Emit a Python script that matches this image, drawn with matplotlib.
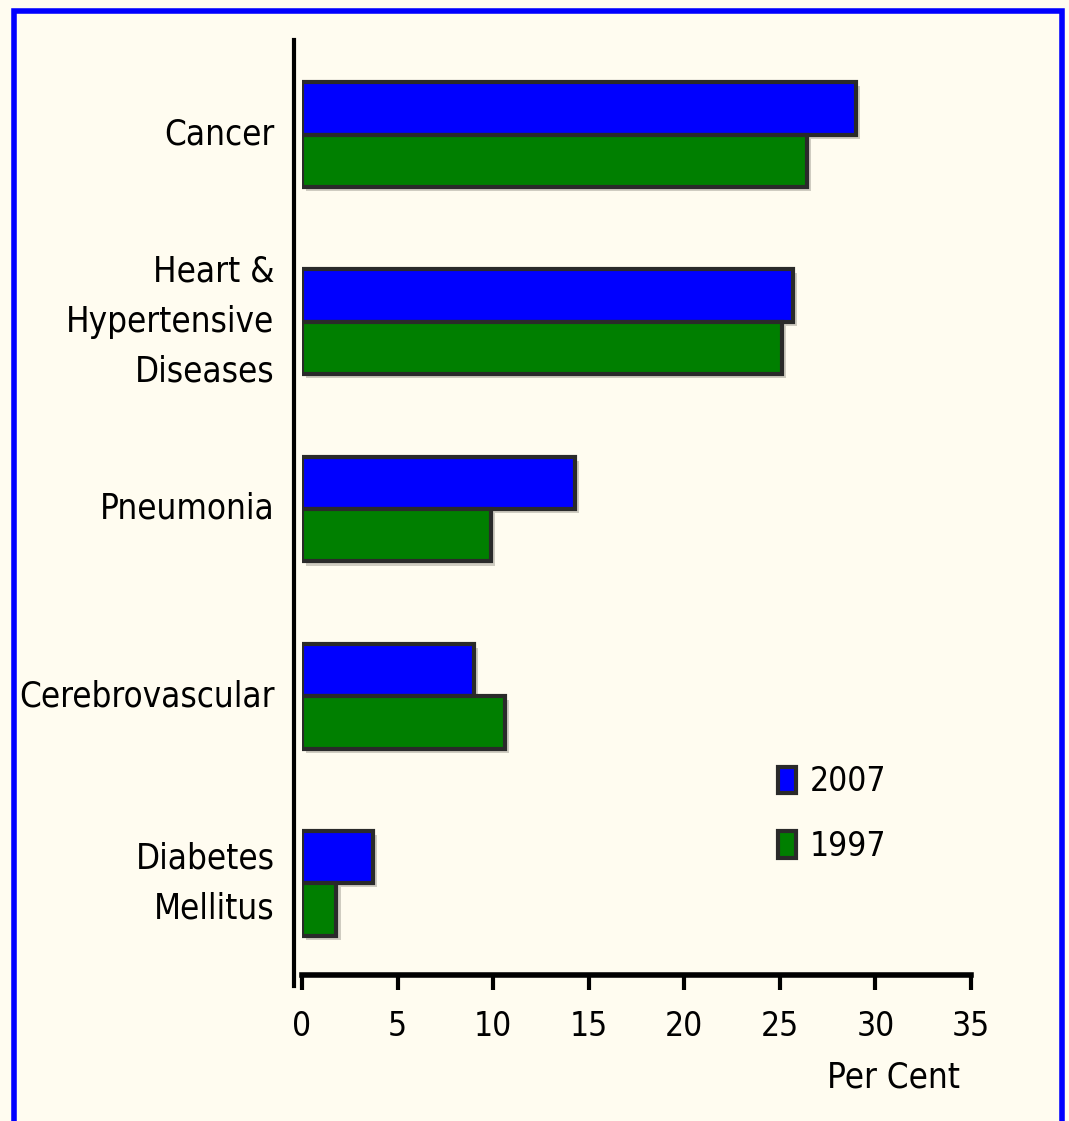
import matplotlib.pyplot as plt
import matplotlib.patheffects as pe
import matplotlib.transforms as mtransforms
from matplotlib.patches import Rectangle
import numpy as np

categories = ['Cancer', 'Heart &\nHypertensive\nDiseases', 'Pneumonia',
              'Cerebrovascular', 'Diabetes\nMellitus']
values_2007 = [29.0, 25.7, 14.3, 9.0, 3.7]
values_1997 = [26.4, 25.1, 9.9, 10.6, 1.8]
x_ticks = [0, 5, 10, 15, 20, 25, 30, 35]

bg = '#fffcf0'
plt.rcParams['font.family'] = ['DejaVu Sans']
plt.rcParams['font.stretch'] = 'condensed'

fig = plt.figure(figsize=(10.69, 11.21), dpi=100, facecolor=bg)
ax = fig.add_axes([0.2825, 0.1302, 0.6258, 0.8341], facecolor=bg)

y = np.arange(len(categories))
h = 0.28
shadow = [pe.SimplePatchShadow(offset=(3, -3), shadow_rgbFace='#bbb8ae', alpha=0.7), pe.Normal()]
ax.barh(y - h / 2, values_2007, height=h, color='#0000ff', edgecolor='#2a2a2a',
        linewidth=3, label='2007', path_effects=shadow)
ax.barh(y + h / 2, values_1997, height=h, color='#007f00', edgecolor='#2a2a2a',
        linewidth=3, label='1997', path_effects=shadow)

ax.set_ylim(4.49, -0.505)
ax.set_xlim(0, 35)

# category labels drawn as texts so the line spacing can be widened
ax.set_yticks(y, [''] * len(y))
ax.tick_params(axis='y', length=0)
trans = mtransforms.blended_transform_factory(ax.transAxes, ax.transData)
for yi, name in zip(y, categories):
    ax.text(-0.041, yi, name, transform=trans, ha='right', va='center',
            fontsize=25, linespacing=1.6)

ax.set_xticks(x_ticks, [str(t) for t in x_ticks])
ax.tick_params(axis='x', length=11, width=3, direction='out', pad=14,
               color='black', labelsize=24)

for s in ['top', 'right']:
    ax.spines[s].set_visible(False)
ax.spines['left'].set_position(('outward', 6))
ax.spines['left'].set_linewidth(3)
ax.spines['left'].set_bounds(4.55, -0.505)
ax.spines['bottom'].set_linewidth(4)

fig.text(0.898, 0.039, 'Per Cent', fontsize=25, ha='right', va='center')

leg = ax.legend(loc='upper left', bbox_to_anchor=(0.712, 0.332),
                bbox_transform=fig.transFigure, frameon=False, fontsize=24,
                handlelength=0.55, handleheight=0.85, handletextpad=0.4,
                labelspacing=0.95, borderpad=0)
for hnd in leg.legend_handles:
    hnd.set_path_effects([])

# blue frame around the picture
fig.add_artist(Rectangle((0.0135, -0.05), 0.98, 1.04, transform=fig.transFigure,
                         fill=False, edgecolor='#0000ff', linewidth=4))

fig.savefig('out.png', dpi=100, facecolor=bg)
